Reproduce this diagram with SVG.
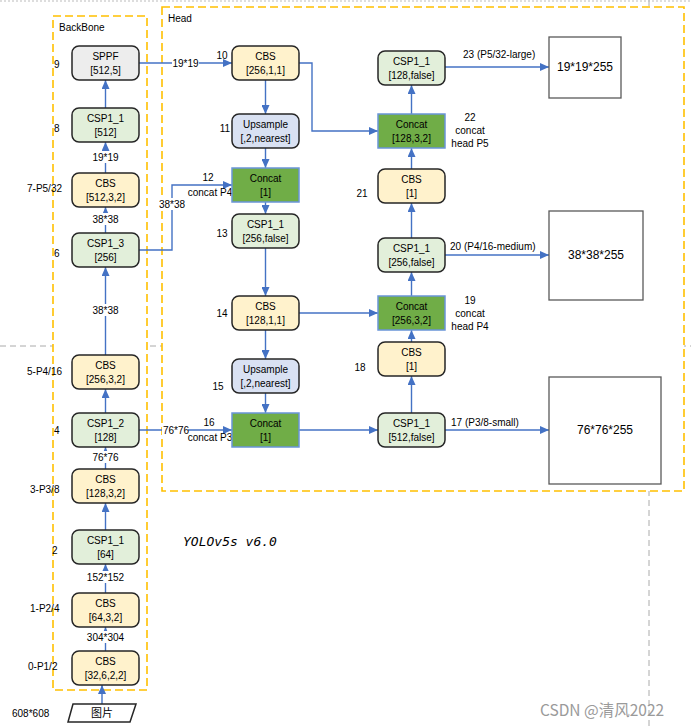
<svg xmlns="http://www.w3.org/2000/svg" width="691" height="727" viewBox="0 0 691 727">
<defs>
<marker id="arr" markerUnits="userSpaceOnUse" markerWidth="9" markerHeight="8" refX="9" refY="4" orient="auto">
<path d="M0,0 L9,4 L0,8 z" fill="#4472C4"/>
</marker>
<style>
text{font-family:"Liberation Sans",Arial,sans-serif;font-size:10px;fill:#000}
.c{text-anchor:middle}
.node{stroke:#262626;stroke-width:1.5}
.cbs{fill:#FFF2CC}
.csp{fill:#E2EFDA}
.sppf{fill:#EDEDED}
.up{fill:#D9E1F2}
.cat{fill:#70AD47;stroke:#6A95D8;stroke-width:1.5}
.out{fill:#fff;stroke:#595959;stroke-width:1.3}
.conn path{fill:none;stroke:#4472C4;stroke-width:1.4}
.a{marker-end:url(#arr)}
.grp{fill:#fff;stroke:#FFC000;stroke-width:1.6;stroke-dasharray:8,4}
.gray{fill:none;stroke:#AAAAAA;stroke-width:1;stroke-dasharray:6,4}
.bg{fill:#fff}
.ot{font-size:12px}
</style>
</defs>
<rect width="691" height="727" fill="#fff"/>
<!-- page break lines -->
<line class="gray" x1="0" y1="346" x2="691" y2="346"/>
<line class="gray" x1="649" y1="0" x2="649" y2="727"/>
<line x1="0" y1="1" x2="691" y2="1" stroke="#BBBBBB" stroke-width="1" stroke-dasharray="2,2"/>
<!-- group frames -->
<g id="head-frame">
<rect class="grp" x="162" y="7" width="522" height="484"/>
<text x="168" y="22">Head</text>
</g>
<g id="backbone-frame">
<rect class="grp" x="53" y="16" width="94" height="674"/>
<text x="59" y="31">BackBone</text>
</g>
<!-- connectors -->
<g id="connectors" class="conn">
<path class="a" d="M102,704 V685"/>
<path class="a" d="M105.5,651 V627"/>
<path class="a" d="M105.5,593 V564"/>
<path class="a" d="M105.5,530 V503"/>
<path class="a" d="M105.5,469 V447"/>
<path class="a" d="M105.5,413 V389"/>
<path class="a" d="M105.5,355 V267"/>
<path class="a" d="M105.5,233 V207"/>
<path class="a" d="M105.5,173 V142"/>
<path class="a" d="M105.5,108 V80"/>
<path class="a" d="M139,63 H232"/>
<path class="a" d="M299,63 H312 V131 H378"/>
<path class="a" d="M265.5,80 V114"/>
<path class="a" d="M265.5,148 V168"/>
<path class="a" d="M139,250 H172 V185 H232"/>
<path class="a" d="M265.5,202 V214"/>
<path class="a" d="M265.5,248 V296"/>
<path class="a" d="M299,313 H378"/>
<path class="a" d="M265.5,330 V359"/>
<path class="a" d="M265.5,393 V413"/>
<path class="a" d="M139,430 H232"/>
<path class="a" d="M299,430 H378"/>
<path class="a" d="M445,430 H549"/>
<path class="a" d="M411.5,413 V376"/>
<path class="a" d="M411.5,342 V330"/>
<path class="a" d="M411.5,296 V272"/>
<path class="a" d="M445,255 H549"/>
<path class="a" d="M411.5,238 V203"/>
<path class="a" d="M411.5,169 V148"/>
<path class="a" d="M411.5,114 V85"/>
<path class="a" d="M445,67 H549"/>
</g>
<!-- connector labels -->
<g id="conn-labels">
<rect class="bg" x="87" y="631" width="37" height="12"/><text class="c" x="105.5" y="641">304*304</text>
<rect class="bg" x="87" y="571" width="37" height="12"/><text class="c" x="105.5" y="581">152*152</text>
<rect class="bg" x="91" y="451" width="29" height="12"/><text class="c" x="105.5" y="461">76*76</text>
<rect class="bg" x="91" y="304" width="29" height="12"/><text class="c" x="105.5" y="314">38*38</text>
<rect class="bg" x="91" y="213" width="29" height="12"/><text class="c" x="105.5" y="223">38*38</text>
<rect class="bg" x="91" y="151" width="29" height="12"/><text class="c" x="105.5" y="161">19*19</text>
<rect class="bg" x="172" y="57" width="27" height="12"/><text class="c" x="185.5" y="67">19*19</text>
<rect class="bg" x="158" y="198" width="29" height="12"/><text class="c" x="172" y="208">38*38</text>
<text class="c" x="208" y="181">12</text>
<text class="c" x="210" y="196">concat P4</text>
<text class="c" x="209" y="426">16</text>
<text class="c" x="210" y="441">concat P3</text>
<rect class="bg" x="162" y="425" width="26" height="11"/><text class="c" x="176" y="434">76*76</text>
<text x="451" y="426">17 (P3/8-small)</text>
<text x="450" y="250">20 (P4/16-medium)</text>
<text x="463" y="58">23 (P5/32-large)</text>
<text class="c" x="470" y="121">22</text>
<text class="c" x="470" y="134">concat</text>
<text class="c" x="470" y="147">head P5</text>
<text class="c" x="470" y="304">19</text>
<text class="c" x="470" y="317">concat</text>
<text class="c" x="470" y="330">head P4</text>
</g>
<!-- backbone nodes -->
<g id="n9"><rect class="node sppf" x="72" y="46" width="67" height="34" rx="7"/><text class="c" x="105.5" y="60">SPPF</text><text class="c" x="105.5" y="74">[512,5]</text><text x="54" y="68">9</text></g>
<g id="n8"><rect class="node csp" x="72" y="108" width="67" height="34" rx="7"/><text class="c" x="105.5" y="122">CSP1_1</text><text class="c" x="105.5" y="136">[512]</text><text x="54" y="132">8</text></g>
<g id="n7"><rect class="node cbs" x="72" y="173" width="67" height="34" rx="7"/><text class="c" x="105.5" y="187">CBS</text><text class="c" x="105.5" y="201">[512,3,2]</text><text x="27" y="192">7-P5/32</text></g>
<g id="n6"><rect class="node csp" x="72" y="233" width="67" height="34" rx="7"/><text class="c" x="105.5" y="247">CSP1_3</text><text class="c" x="105.5" y="261">[256]</text><text x="54" y="257">6</text></g>
<g id="n5"><rect class="node cbs" x="72" y="355" width="67" height="34" rx="7"/><text class="c" x="105.5" y="369">CBS</text><text class="c" x="105.5" y="383">[256,3,2]</text><text x="27" y="375">5-P4/16</text></g>
<g id="n4"><rect class="node csp" x="72" y="413" width="67" height="34" rx="7"/><text class="c" x="105.5" y="427">CSP1_2</text><text class="c" x="105.5" y="441">[128]</text><text x="54" y="434">4</text></g>
<g id="n3"><rect class="node cbs" x="72" y="469" width="67" height="34" rx="7"/><text class="c" x="105.5" y="483">CBS</text><text class="c" x="105.5" y="497">[128,3,2]</text><text x="30" y="493">3-P3/8</text></g>
<g id="n2"><rect class="node csp" x="72" y="530" width="67" height="34" rx="7"/><text class="c" x="105.5" y="544">CSP1_1</text><text class="c" x="105.5" y="558">[64]</text><text x="52" y="554">2</text></g>
<g id="n1"><rect class="node cbs" x="72" y="593" width="67" height="34" rx="7"/><text class="c" x="105.5" y="607">CBS</text><text class="c" x="105.5" y="621">[64,3,2]</text><text x="30" y="612">1-P2/4</text></g>
<g id="n0"><rect class="node cbs" x="72" y="651" width="67" height="34" rx="7"/><text class="c" x="105.5" y="665">CBS</text><text class="c" x="105.5" y="679">[32,6,2,2]</text><text x="28" y="670">0-P1/2</text></g>
<g id="input"><path d="M73,704 H136 L130,722 H68 Z" fill="#fff" stroke="#262626" stroke-width="1.5"/><text class="c" x="102" y="717" style="font-family:'Noto Sans CJK SC',sans-serif;font-size:11px">图片</text><text x="12" y="717">608*608</text></g>
<!-- head nodes col 1 -->
<g id="n10"><rect class="node cbs" x="232" y="46" width="67" height="34" rx="7"/><text class="c" x="265.5" y="60">CBS</text><text class="c" x="265.5" y="74">[256,1,1]</text><text class="c" x="222" y="59">10</text></g>
<g id="n11"><rect class="node up" x="232" y="114" width="67" height="34" rx="7"/><text class="c" x="265.5" y="128">Upsample</text><text class="c" x="265.5" y="142">[,2,nearest]</text><text class="c" x="225" y="132">11</text></g>
<g id="n12"><rect class="cat" x="232" y="168" width="67" height="34"/><text class="c" x="265.5" y="182">Concat</text><text class="c" x="265.5" y="196">[1]</text></g>
<g id="n13"><rect class="node csp" x="232" y="214" width="67" height="34" rx="7"/><text class="c" x="265.5" y="228">CSP1_1</text><text class="c" x="265.5" y="242">[256,false]</text><text class="c" x="222" y="237">13</text></g>
<g id="n14"><rect class="node cbs" x="232" y="296" width="67" height="34" rx="7"/><text class="c" x="265.5" y="310">CBS</text><text class="c" x="265.5" y="324">[128,1,1]</text><text class="c" x="222" y="317">14</text></g>
<g id="n15"><rect class="node up" x="232" y="359" width="67" height="34" rx="7"/><text class="c" x="265.5" y="373">Upsample</text><text class="c" x="265.5" y="387">[,2,nearest]</text><text class="c" x="218" y="390">15</text></g>
<g id="n16"><rect class="cat" x="232" y="413" width="67" height="34"/><text class="c" x="265.5" y="427">Concat</text><text class="c" x="265.5" y="441">[1]</text></g>
<!-- head nodes col 2 -->
<g id="n23"><rect class="node csp" x="378" y="51" width="67" height="34" rx="7"/><text class="c" x="411.5" y="65">CSP1_1</text><text class="c" x="411.5" y="79">[128,false]</text></g>
<g id="n22"><rect class="cat" x="378" y="114" width="67" height="34"/><text class="c" x="411.5" y="128">Concat</text><text class="c" x="411.5" y="142">[128,3,2]</text></g>
<g id="n21"><rect class="node cbs" x="378" y="169" width="67" height="34" rx="7"/><text class="c" x="411.5" y="183">CBS</text><text class="c" x="411.5" y="197">[1]</text><text class="c" x="362" y="197">21</text></g>
<g id="n20"><rect class="node csp" x="378" y="238" width="67" height="34" rx="7"/><text class="c" x="411.5" y="252">CSP1_1</text><text class="c" x="411.5" y="266">[256,false]</text></g>
<g id="n19"><rect class="cat" x="378" y="296" width="67" height="34"/><text class="c" x="411.5" y="310">Concat</text><text class="c" x="411.5" y="324">[256,3,2]</text></g>
<g id="n18"><rect class="node cbs" x="378" y="342" width="67" height="34" rx="7"/><text class="c" x="411.5" y="356">CBS</text><text class="c" x="411.5" y="370">[1]</text><text class="c" x="360" y="371">18</text></g>
<g id="n17"><rect class="node csp" x="378" y="413" width="67" height="34" rx="7"/><text class="c" x="411.5" y="427">CSP1_1</text><text class="c" x="411.5" y="441">[512,false]</text></g>
<!-- outputs -->
<g id="out19"><rect class="out" x="549" y="37" width="72" height="61"/><text class="c ot" x="585" y="71">19*19*255</text></g>
<g id="out38"><rect class="out" x="549" y="211" width="94" height="89"/><text class="c ot" x="596" y="259">38*38*255</text></g>
<g id="out76"><rect class="out" x="549" y="377" width="112" height="107"/><text class="c ot" x="605" y="434">76*76*255</text></g>
<!-- title and watermark -->
<text x="183" y="546" style="font-family:'DejaVu Sans Mono',monospace;font-size:13px;font-style:italic">YOLOv5s v6.0</text>
<text x="540" y="716" style="font-family:'Noto Sans CJK SC','Noto Sans',sans-serif;font-size:15.5px;fill:#9a9a9a">CSDN @清风2022</text>
</svg>
